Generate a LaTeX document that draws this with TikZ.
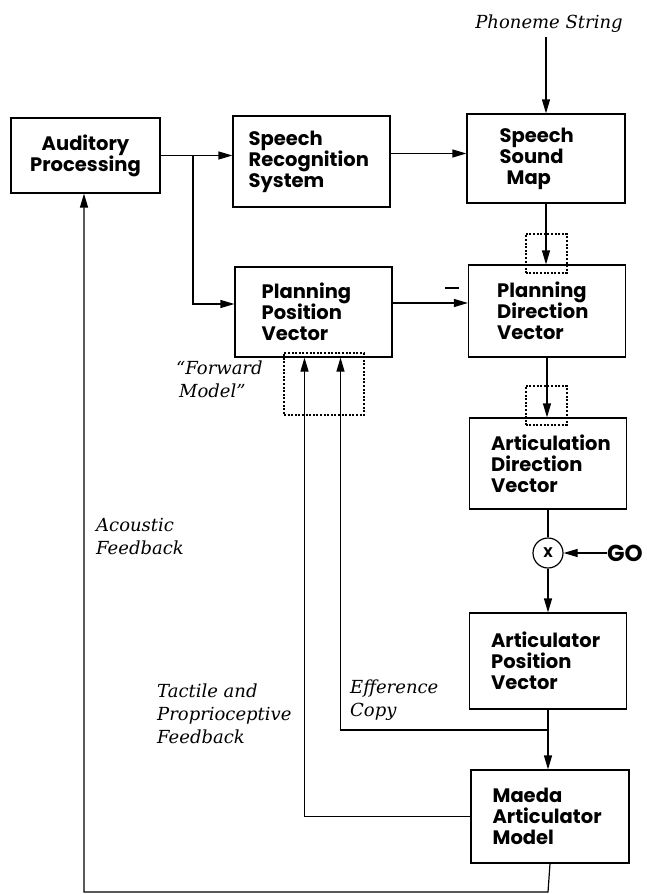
\documentclass[tikz,border=0pt]{standalone}
\usepackage{fontspec}
\newfontfamily\boxfont{Poppins}
\newfontfamily\itfont{DejaVu Serif}
\usetikzlibrary{arrows.meta}
\begin{document}
\begin{tikzpicture}[x=1pt,y=-1pt,
  blk/.style={draw, line width=1.2pt, inner sep=0pt},
  btxt/.style={font=\boxfont\bfseries\fontsize{19.5}{21}\selectfont, align=left, inner sep=0pt, anchor=west},
  itl/.style={font=\itfont\itshape\fontsize{18}{23}\selectfont, align=left, inner sep=0pt},
  con/.style={line width=1.2pt},
  arr/.style={line width=1.2pt, -{Triangle[length=14pt,width=8pt]}},
  dotbox/.style={draw, line width=2pt, dash pattern=on 2pt off 1.6pt, inner sep=0pt}
]
\useasboundingbox (0,0) rectangle (647,894);
% boxes
\node[blk, minimum width=149pt, minimum height=75pt] (ap) at (85.5,155.5) {};
\node[blk, minimum width=157pt, minimum height=91pt] (srs) at (311.5,161.5) {};
\node[blk, minimum width=158pt, minimum height=89pt] (ssm) at (546,158.5) {};
\node[blk, minimum width=157pt, minimum height=90pt] (ppv) at (313.5,312) {};
\node[blk, minimum width=157pt, minimum height=92pt] (pdv) at (547,311) {};
\node[blk, minimum width=157pt, minimum height=91pt] (adv) at (548,463.5) {};
\node[blk, minimum width=157pt, minimum height=96pt] (apv) at (548,661) {};
\node[blk, minimum width=158pt, minimum height=93pt] (maeda) at (550,816.5) {};
% box texts
\node[btxt, anchor=center, align=center] (apt) at (ap.center) {Auditory\\Processing};
\node[btxt] (srst) at ([xshift=16pt]srs.west) {Speech\\Recognition\\System};
\node[btxt] (ssmt) at ([xshift=33pt]ssm.west) {Speech\\Sound\\\hspace*{7pt}Map};
\node[btxt] (ppvt) at ([xshift=27pt]ppv.west) {Planning\\Position\\Vector};
\node[btxt] (pdvt) at ([xshift=29pt]pdv.west) {Planning\\Direction\\Vector};
\node[btxt] (advt) at ([xshift=22pt]adv.west) {Articulation\\Direction\\Vector};
\node[btxt] (apvt) at ([xshift=22pt]apv.west) {Articulator\\Position\\Vector};
\node[btxt] (maedat) at ([xshift=22pt]maeda.west) {Maeda\\Articulator\\Model};
% dotted boxes
\node[dotbox, minimum width=41pt, minimum height=39pt] (d1) at (546,253.5) {};
\node[dotbox, minimum width=41pt, minimum height=39pt] (d2) at (546,405.5) {};
\node[dotbox, minimum width=80pt, minimum height=62pt] (d3) at (324,384) {};
% multiplier and GO
\node[draw, circle, line width=1.2pt, minimum size=30pt, inner sep=0pt,
      font=\boxfont\bfseries\fontsize{14}{14}\selectfont] (mul) at (548,553) {X};
\node[font=\boxfont\bfseries\fontsize{23}{23}\selectfont, inner sep=0pt, anchor=west] (go) at (607,553) {GO};
\node[inner sep=0pt] (minus) at (452,288) {\rule{14pt}{2.2pt}};
% italic labels
\node[itl] (phon) at (549,24) {Phoneme String};
\node[itl, anchor=north west] (fwd) at (176,361) {“Forward\\\hspace*{3pt}Model”};
\node[itl, anchor=north west] (acou) at (96,518) {Acoustic\\Feedback};
\node[itl, anchor=north west] (tact) at (157,684) {Tactile and\\Proprioceptive\\Feedback};
\node[itl, anchor=north west] (effc) at (350,680) {Efference\\Copy};
% coordinates
\coordinate (br) at (193,0);
\coordinate (ef) at (548,730);
\coordinate (bl) at (84,892);
\coordinate (bm) at (548,892);
% connectors
\draw[arr] (ap.east) -- (ap.east -| srs.west);
\draw[arr] ([yshift=8pt]srs.east) -- ([yshift=8pt]srs.east -| ssm.west);
\draw[arr] (ap.east -| br) |- ([yshift=8pt]ppv.west);
\draw[arr] ([yshift=9pt]ppv.east) -- ([yshift=9pt]ppv.east -| pdv.west);
\draw[arr] ([yshift=-4pt]phon.south -| ssm.north) -- (ssm.north);
\draw[arr] (ssm.south) -- (ssm.south |- pdv.north);
\draw[arr] (pdv.south) -- (pdv.south |- adv.north);
\draw[con] (adv.south) -- (mul.north);
\draw[arr] (go.west) -- (mul.east);
\draw[arr] (mul.south) -- (apv.north);
\draw[arr] (apv.south) -- (apv.south |- maeda.north);
\draw[arr] (ef) -| ([xshift=27pt]ppv.south);
\draw[arr] (maeda.west) -| ([xshift=-9pt]ppv.south);
\draw[arr] (maeda.south) -- (bm) -- (bl) -- (bl |- ap.south);
\end{tikzpicture}
\end{document}
